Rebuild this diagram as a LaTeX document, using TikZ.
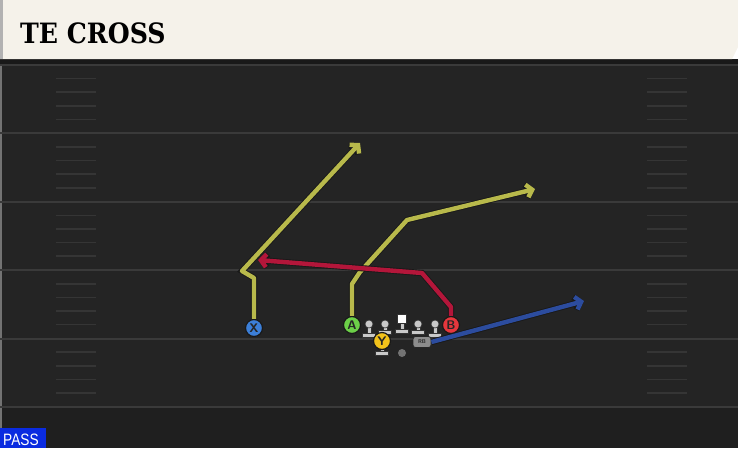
\documentclass[tikz,border=0pt]{standalone}
\usepackage{fontspec}
\setmainfont{Liberation Sans}
\newfontfamily\titlefont{DejaVu Serif Condensed}
\newfontfamily\passfont{Liberation Sans}[FakeStretch=0.83]
\usetikzlibrary{arrows.meta,positioning}
\definecolor{field}{HTML}{242424}
\definecolor{endzone}{HTML}{1F1F1F}
\definecolor{yardgray}{HTML}{3A3A3A}
\definecolor{hashgray}{HTML}{353535}
\definecolor{barcream}{HTML}{F5F2EA}
\definecolor{passblue}{HTML}{0A2BE0}
\definecolor{olive}{HTML}{B8B94B}
\definecolor{crimson}{HTML}{B3163A}
\definecolor{navy}{HTML}{2C4C9E}
\definecolor{xblue}{HTML}{3C7FD8}
\definecolor{agreen}{HTML}{6CCF48}
\definecolor{bred}{HTML}{E6373D}
\definecolor{yyellow}{HTML}{F2C21B}
\definecolor{linegray}{HTML}{C9C9C9}
\tikzset{
  yardline/.style={draw=yardgray, line width=2pt},
  hash/.style={draw=hashgray, line width=1.6pt},
  route/.style={draw=#1, line width=4.4pt, line join=round,
    -{Straight Barb[length=5.5pt,width=13pt]},
    preaction={draw=black!90, line width=6.2pt}},
  player/.style={circle, draw=black!90, line width=1.2pt, fill=#1, minimum size=17pt,
    inner sep=0, text=black!85, font=\sffamily\bfseries\fontsize{12.5}{12.5}\selectfont},
  lineman/.style={fill=linegray, draw=black!80, line width=0.6pt}
}
\begin{document}
\begin{tikzpicture}[x=1pt,y=-1pt]
\useasboundingbox (0,0) rectangle (738,448);
% field
\fill[field] (0,60) rectangle (738,448);
\fill[endzone] (0,408) rectangle (738,448);
\draw[draw=black!55, line width=2pt] (1,60) -- (1,448);
\foreach \l in {65,133.4,201.8,270.2,338.6,407}
  \draw[yardline] (0,\l) -- (738,\l);
\foreach \l in {65,133.4,201.8,270.2,338.6}
  \foreach \i in {1,...,4} {
    \draw[hash] (56,\l+13.6*\i) -- (96,\l+13.6*\i);
    \draw[hash] (647,\l+13.6*\i) -- (687,\l+13.6*\i);
  }
% title bar
\fill[black!90] (0,59) rectangle (738,64);
\fill[barcream] (0,0) -- (738,0) -- (738,47) -- (732,59) -- (0,59) -- cycle;
\fill[black!30] (0,0) rectangle (3,59);
\node[anchor=west, inner sep=0, font=\titlefont\bfseries\fontsize{28}{28}\selectfont] (title) at (20,33) {TE CROSS};
% pass tag
\fill[passblue] (0,428) rectangle (46,448);
\node[anchor=west, inner sep=0, text=white, font=\passfont\fontsize{16.5}{16.5}\selectfont] (pass) at (3,439.5) {PASS};
% linemen
\foreach \x/\b in {369/337, 385/334, 418/334, 435/337} {
  \draw[lineman] (\x-2,324) rectangle (\x+2,\b-3);
  \draw[lineman] (\x-6.5,\b-3.5) rectangle (\x+6.5,\b+0.5);
  \draw[lineman] (\x,324) circle (4);
}
\draw[lineman] (400,322) rectangle (404,330);
\draw[lineman] (395.5,329.5) rectangle (408.5,333.5);
\draw[lineman, fill=white] (397.5,314) rectangle (406.5,323);
% qb mark
\draw[lineman] (380,347) rectangle (384,351.5);
\draw[lineman] (375.5,351) rectangle (388.5,355);
\fill[black!55] (402,353) circle (4);
% players
\node[player=xblue] (X) at (254,328) {X};
\node[player=agreen] (A) at (352,325) {A};
\node[player=bred] (B) at (451,325) {B};
\node[player=yyellow] (Y) at (382,341) {Y};
\node[rounded corners=2.5pt, draw=black!85, line width=0.8pt, fill=black!45, minimum width=18pt, minimum height=11pt,
  inner sep=0, font=\sffamily\bfseries\fontsize{5.5}{5.5}\selectfont, text=black!85] (RB) at (422,342) {RB};
% routes
\coordinate (xend) at (360,143);
\coordinate (aend) at (535,189);
\coordinate (bend) at (258,260);
\coordinate (rbend) at (584,301);
\draw[route=navy] (RB.east) -- (rbend);
\draw[route=olive] (X.north) -- (254,278) -- (242,271) -- (xend);
\draw[route=olive] (A.north) -- (352,284) -- (360,272) -- (407,220) -- (aend);
\draw[route=crimson] (B.north) -- (451,307) -- (422,273) -- (bend);
\end{tikzpicture}
\end{document}
